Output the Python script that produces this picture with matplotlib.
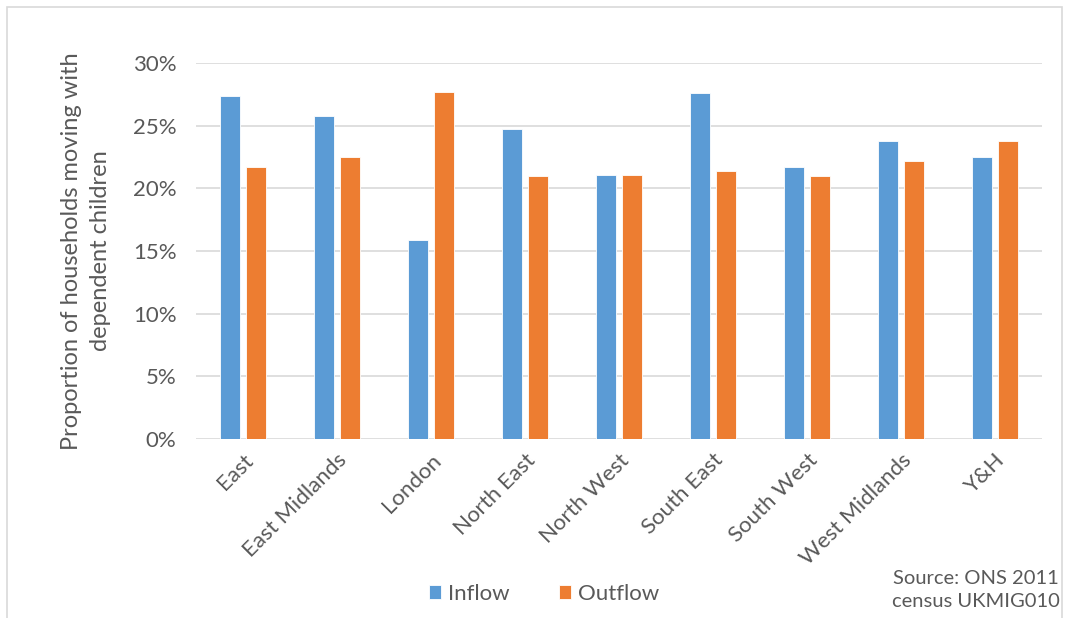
import numpy as np
import matplotlib.pyplot as plt
from matplotlib.patches import Rectangle
from matplotlib.ticker import FuncFormatter

plt.rcParams['font.family'] = ['Lato', 'DejaVu Sans']

regions = ['East', 'East Midlands', 'London', 'North East', 'North West',
           'South East', 'South West', 'West Midlands', 'Y&H']
inflow = [27.4, 25.8, 15.9, 24.7, 21.1, 27.6, 21.7, 23.8, 22.5]
outflow = [21.7, 22.5, 27.7, 21.0, 21.1, 21.4, 21.0, 22.2, 23.8]

grey = '#595959'
blue = '#5B9BD5'
orange = '#ED7D31'

fig = plt.figure(figsize=(10.67, 6.18), dpi=100)
ax = fig.add_axes([196/1067, 1 - 439/618, 846/1067, 376/618])

x = np.arange(len(regions))
w = 0.22
ax.bar(x - 0.138, inflow, w, color=blue, edgecolor='white', linewidth=0.6,
       label='Inflow', zorder=3)
ax.bar(x + 0.138, outflow, w, color=orange, edgecolor='white', linewidth=0.6,
       label='Outflow', zorder=3)

ax.set_xlim(-0.5, len(regions) - 0.5)
ax.set_ylim(0, 30)
ax.set_yticks(np.arange(0, 31, 5))
ax.yaxis.set_major_formatter(FuncFormatter(lambda v, p: f'{v:.0f}%'))
ax.grid(axis='y', color='#D9D9D9', linewidth=1.2, zorder=0)
for s in ax.spines.values():
    s.set_visible(False)
ax.tick_params(length=0, colors=grey, labelsize=16)
ax.tick_params(axis='y', pad=14)
ax.tick_params(axis='x', pad=8)
ax.set_xticks(x)
ax.set_xticklabels(regions, rotation=45, ha='right', rotation_mode='anchor')

ax.set_ylabel('Proportion of households moving with\ndependent children',
              color=grey, fontsize=17, labelpad=16, linespacing=1.45)

ax.legend(loc='center', bbox_to_anchor=(544/1067, 1 - 594/618),
          bbox_transform=fig.transFigure, ncol=2, frameon=False,
          fontsize=16, labelcolor=grey, handlelength=0.55, handleheight=0.55,
          handletextpad=0.3, columnspacing=2.2)

fig.text(1060/1067, 1 - 590/618, 'Source: ONS 2011\ncensus UKMIG010',
         ha='right', va='center', color=grey, fontsize=14.5, linespacing=1.45,
         multialignment='center')

fig.patches.append(Rectangle((7/1067, -0.05), 1055/1067, 1.05 - 7/618,
                             transform=fig.transFigure, fill=False,
                             edgecolor='#D9D9D9', linewidth=1.2))

fig.savefig('out.png', dpi=100)
